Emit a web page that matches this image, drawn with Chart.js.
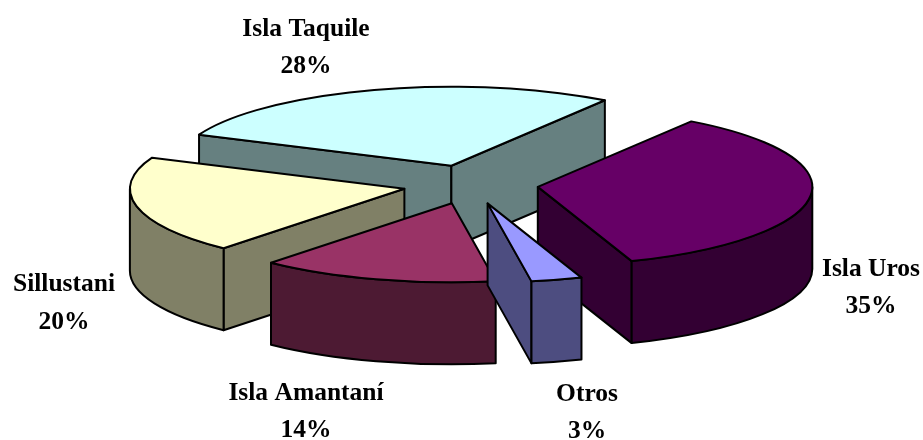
<!DOCTYPE html>
<html>
<head>
<meta charset="utf-8">
<title>Islas</title>
<script src="https://cdn.jsdelivr.net/npm/chart.js@4"></script>
<style>
  html, body { margin: 0; padding: 0; background: #fff; }
  canvas { display: block; }
</style>
</head>
<body>
<canvas id="pie" width="923" height="440"></canvas>
<script>
'use strict';
// Datos del gráfico (sentido horario, desde Isla Uros)
const labels = ['Isla Uros', 'Otros', 'Isla Amantaní', 'Sillustani', 'Isla Taquile'];
const values = [35, 3, 14, 20, 28];
const topColors = ['#660066', '#9999FF', '#993366', '#FFFFCC', '#CCFFFF'];
const sideColors = ['#330033', '#4D4D80', '#4D1A33', '#808066', '#668080'];

// Geometría de la perspectiva: elipse de la tapa, profundidad, separación
const CX = 470.5, CY = 184.5, RX = 274.5, RY = 79, DEPTH = 82, EXPLODE = 0.247;
const LINE = 2;

// Posición de cada rótulo: centro y línea base de las dos filas
const labelPos = [
  { x: 871, y: 276, y2: 313 },
  { x: 587, y: 401, y2: 438 },
  { x: 306, y: 400, y2: 437 },
  { x: 64, y: 291, y2: 329 },
  { x: 306, y: 36, y2: 73 },
];

class Pie3D extends Chart.PieController {
  draw() {
    const ctx = this.chart.ctx;
    const arcs = this._cachedMeta.data;
    const mid = a => (a.startAngle + a.endAngle) / 2;
    // de atrás hacia adelante
    const order = arcs.map((a, i) => i).sort((p, q) => Math.sin(mid(arcs[p])) - Math.sin(mid(arcs[q])));
    order.forEach(i => {
      const a = arcs[i], m = mid(a);
      const ox = CX + Math.cos(m) * EXPLODE * RX, oy = CY + Math.sin(m) * EXPLODE * RY;
      const rim = t => [ox + Math.cos(t) * RX, oy + Math.sin(t) * RY];
      ctx.save();
      ctx.lineWidth = LINE; ctx.lineJoin = 'round'; ctx.strokeStyle = '#000'; ctx.fillStyle = sideColors[i];
      // caras de corte visibles
      const wall = t => {
        const [px, py] = rim(t);
        ctx.beginPath(); ctx.moveTo(ox, oy); ctx.lineTo(px, py); ctx.lineTo(px, py + DEPTH); ctx.lineTo(ox, oy + DEPTH); ctx.closePath();
        ctx.fill(); ctx.stroke();
      };
      if (Math.cos(a.startAngle) < 0) wall(a.startAngle);
      if (Math.cos(a.endAngle) > 0) wall(a.endAngle);
      // pared exterior, sólo la mitad delantera
      [0, 2 * Math.PI].forEach(turn => {
        const t0 = Math.max(a.startAngle, turn), t1 = Math.min(a.endAngle, turn + Math.PI);
        if (t1 <= t0) return;
        ctx.beginPath();
        ctx.ellipse(ox, oy, RX, RY, 0, t0, t1);
        ctx.ellipse(ox, oy + DEPTH, RX, RY, 0, t1, t0, true);
        ctx.closePath(); ctx.fill(); ctx.stroke();
      });
      ctx.restore();
      // tapa: el arco de Chart.js aplastado a la elipse
      const sx = RX / a.outerRadius, sy = RY / a.outerRadius;
      ctx.save();
      ctx.translate(ox, oy); ctx.scale(sx, sy); ctx.translate(-a.x, -a.y);
      a.draw(ctx);
      ctx.restore();
      ctx.save();
      ctx.lineWidth = LINE; ctx.lineJoin = 'round'; ctx.strokeStyle = '#000';
      ctx.beginPath(); ctx.moveTo(ox, oy);
      ctx.ellipse(ox, oy, RX, RY, 0, a.startAngle, a.endAngle);
      ctx.closePath(); ctx.stroke();
      ctx.restore();
    });
  }
}
Pie3D.id = 'pie3d';
Pie3D.defaults = {};
Chart.register(Pie3D);

const pieLabels = {
  id: 'pieLabels',
  afterDraw(chart) {
    const ctx = chart.ctx;
    ctx.save();
    ctx.font = 'bold 25.5px "Liberation Serif"'; ctx.fillStyle = '#000'; ctx.textAlign = 'center';
    labels.forEach((l, i) => {
      ctx.fillText(l, labelPos[i].x, labelPos[i].y);
      ctx.fillText(values[i] + '%', labelPos[i].x, labelPos[i].y2);
    });
    ctx.restore();
  },
};

new Chart(document.getElementById('pie').getContext('2d'), {
  type: 'pie3d',
  data: { labels, datasets: [{ data: values, backgroundColor: topColors, borderWidth: 0, clip: false }] },
  options: {
    responsive: false, animation: false, rotation: 34,
    layout: { padding: 0 },
    plugins: { legend: { display: false }, tooltip: { enabled: false } },
  },
  plugins: [pieLabels],
});
</script>
</body>
</html>
